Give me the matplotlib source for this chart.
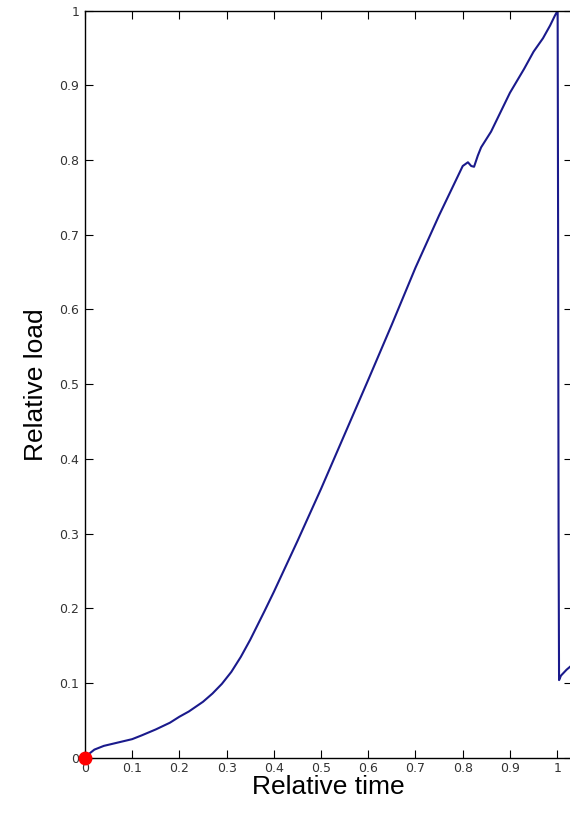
import numpy as np
import matplotlib.pyplot as plt

# relative time / relative load
t = [0, 0.01, 0.02, 0.04, 0.06, 0.08, 0.10, 0.12, 0.15, 0.18, 0.20, 0.22, 0.25,
     0.27, 0.29, 0.31, 0.33, 0.35, 0.38, 0.40, 0.45, 0.50, 0.55, 0.60, 0.65,
     0.70, 0.75, 0.80, 0.811, 0.818, 0.824, 0.832, 0.839, 0.86, 0.90, 0.93,
     0.95, 0.97, 0.985, 0.995, 1.001, 1.002, 1.003, 1.004, 1.008, 1.02, 1.035]
load = [0, 0.006, 0.011, 0.016, 0.019, 0.022, 0.025, 0.030, 0.038, 0.047, 0.055,
        0.062, 0.075, 0.086, 0.099, 0.115, 0.135, 0.158, 0.196, 0.222, 0.290,
        0.360, 0.433, 0.506, 0.580, 0.656, 0.726, 0.792, 0.797, 0.792, 0.791,
        0.806, 0.817, 0.838, 0.890, 0.922, 0.945, 0.963, 0.980, 0.993, 1.0,
        0.70, 0.30, 0.104, 0.110, 0.118, 0.126]

fig = plt.figure(figsize=(5.7, 8.14), dpi=100)
ax = fig.add_axes([0.149, 0.069, 0.855, 0.918])

ax.plot(t, load, color='#1a1a8c', lw=1.5)
ax.plot(0, 0, 'o', color='red', ms=9, clip_on=False, zorder=5)

ax.set_xlim(0, 1.032)
ax.set_ylim(0, 1)
ax.set_xticks(np.arange(0, 1.01, 0.1))
ax.set_yticks(np.arange(0, 1.01, 0.1))
ax.set_xticklabels(['0', '0.1', '0.2', '0.3', '0.4', '0.5', '0.6', '0.7', '0.8', '0.9', '1'])
ax.set_yticklabels(['0', '0.1', '0.2', '0.3', '0.4', '0.5', '0.6', '0.7', '0.8', '0.9', '1'])
ax.tick_params(direction='in', length=6, top=True, right=True, labelsize=9,
               labelcolor='#333333', pad=4)
ax.tick_params(axis='x', pad=3)
for s in ax.spines.values():
    s.set_linewidth(1)

ax.set_xlabel('Relative time', fontsize=19, family='Liberation Sans', labelpad=0)
ax.set_ylabel('Relative load', fontsize=19, family='Liberation Sans', labelpad=8)

fig.savefig('out.png', dpi=100)
